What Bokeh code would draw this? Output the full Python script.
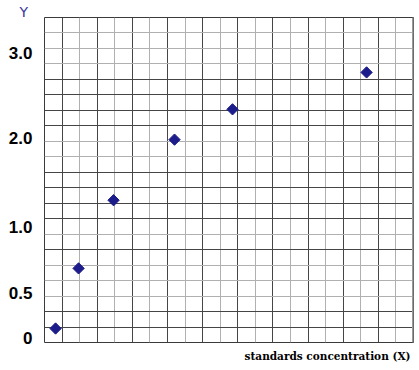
import numpy as np
from bokeh.plotting import figure
from bokeh.models import FixedTicker, Grid, Title, Span, Range1d, ColumnDataSource
from bokeh.embed import file_html
from bokeh.resources import INLINE

# data (x in grid-cell units of the concentration axis, y in response units)
conc = [0.63, 1.94, 3.93, 7.40, 10.70, 18.33]
resp = [0.095, 0.73, 1.45, 2.09, 2.41, 2.80]
ytick_values = [0.0, 0.475, 1.162, 2.112, 3.0]
ytick_labels = ["0", "0.5", "1.0", "2.0", "3.0"]
x_title = "standards concentration (X)"
y_title = "Y"

X0, X1 = 0, 21
Y0, Y1 = -0.0528, 3.380
NCELL = 21

p = figure(width=419, height=370,
           x_range=Range1d(X0, X1), y_range=Range1d(Y0, Y1),
           output_backend="svg", toolbar_location=None,
           min_border_left=44, min_border_right=6,
           min_border_top=17, min_border_bottom=28,
           background_fill_color="white", border_fill_color="white")

p.xaxis.visible = False
p.xgrid.visible = False
p.ygrid.visible = False

yax = p.yaxis[0]
yax.ticker = FixedTicker(ticks=ytick_values)
yax.major_label_overrides = {v: t for v, t in zip(ytick_values, ytick_labels)}
yax.major_tick_out = 0
yax.major_tick_in = 0
yax.minor_tick_out = 0
yax.minor_tick_in = 0
yax.major_tick_line_color = None
yax.minor_tick_line_color = None
yax.axis_line_color = None
yax.major_label_standoff = 12
yax.major_label_text_font = "Liberation Sans"
yax.major_label_text_font_style = "bold"
yax.major_label_text_font_size = "17px"
yax.major_label_text_color = "black"

# graph-paper grid
xs = list(range(1, NCELL))
x_dark = [v for v in xs if v % 2 == 1]
x_light = [v for v in xs if v % 2 == 0]
ys = np.linspace(Y0, Y1, NCELL + 1)
dark_rows = {1, 2, 6, 8, 9, 10, 11, 14, 15, 16, 17}
y_dark = [float(ys[k]) for k in range(1, NCELL) if k in dark_rows]
y_light = [float(ys[k]) for k in range(1, NCELL) if k not in dark_rows]

for ticks, col in ((x_light, "#b0b0b0"), (x_dark, "#454545")):
    p.add_layout(Grid(dimension=0, ticker=FixedTicker(ticks=ticks),
                      grid_line_color=col, grid_line_width=1))
for ticks, col in ((y_light, "#b0b0b0"), (y_dark, "#454545")):
    p.add_layout(Grid(dimension=1, ticker=FixedTicker(ticks=ticks),
                      grid_line_color=col, grid_line_width=1))

p.outline_line_color = "#3a3a3a"
p.outline_line_width = 1
p.add_layout(Span(location=X1, dimension="height", line_color="#9a9a9a", line_width=3))

src = ColumnDataSource(dict(x=conc, y=resp))
p.scatter("x", "y", source=src, marker="square", angle=np.pi / 4, size=8,
          fill_color="#1c1c8a", line_color="#1c1c8a")

p.add_layout(Title(text=x_title, align="right", offset=3, standoff=10,
                   text_font="DejaVu Serif", text_font_style="bold",
                   text_font_size="10.5px", text_color="black"), "below")
p.add_layout(Title(text=y_title, align="left", offset=-25, standoff=-4,
                   text_font="DejaVu Sans", text_font_style="normal",
                   text_font_size="14px", text_color="#3a3a9c"), "above")

open("out.html", "w").write(file_html(p, INLINE))
